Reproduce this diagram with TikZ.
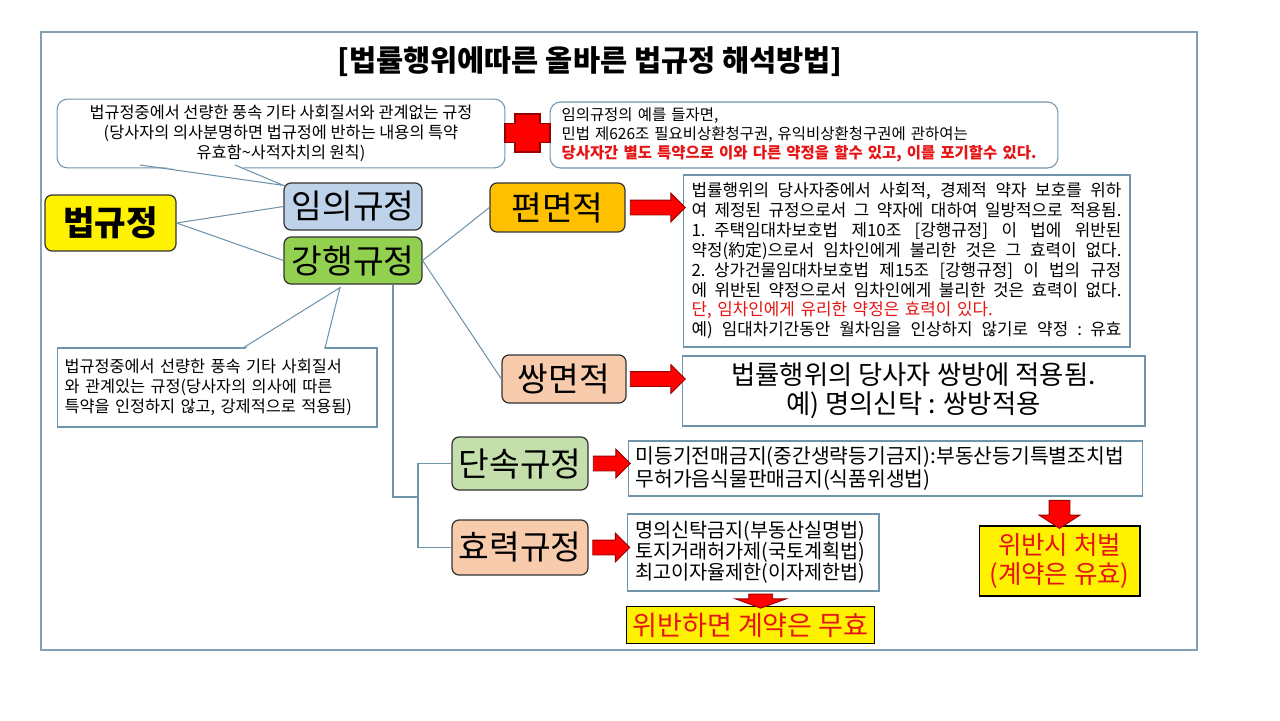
\documentclass[tikz,border=0pt]{standalone}
\usepackage{fontspec}
\setmainfont{Noto Sans CJK KR}
\usetikzlibrary{shapes.arrows,calc}

\definecolor{linecol}{RGB}{112,148,172}
\definecolor{framecol}{RGB}{130,162,180}
\definecolor{darkred}{RGB}{150,0,0}
\definecolor{textred}{RGB}{230,20,20}
\definecolor{imuifill}{RGB}{190,210,234}
\definecolor{ganghaengfill}{RGB}{146,208,80}
\definecolor{pyeonfill}{RGB}{255,192,0}
\definecolor{ssangfill}{RGB}{248,203,173}
\definecolor{dansokfill}{RGB}{196,222,172}

% one justified line of the long text box
\newcommand\jline[1]{{\spaceskip=0.25em plus 3em minus 0.05em\makebox[8.6cm][s]{#1}}}

\begin{document}
\begin{tikzpicture}[x=0.02cm, y=-0.02cm,
  conn/.style={draw=linecol, line width=0.6pt},
  labelbox/.style={draw=black!80, line width=0.7pt, rounded corners=4pt, inner sep=0pt,
    minimum width=2.76cm, minimum height=0.94cm, font=\fontsize{19}{21}\selectfont},
  textbox/.style={draw=linecol, line width=0.6pt, fill=white},
  callout/.style={draw=linecol, line width=0.6pt, fill=white},
  yellowbox/.style={draw=black, line width=0.6pt, fill=yellow, text=textred},
  redarrow/.style={single arrow, draw=darkred, fill=red, line width=0.5pt, inner xsep=0pt,
    inner ysep=0.14cm, single arrow head extend=0.14cm, minimum width=0.56cm}]

  % Fix the page to the size of the slide
  \useasboundingbox[fill=white] (0,0) rectangle (1280,720);

  % Outer frame and title
  \draw[framecol, line width=0.6pt] (41,32) rectangle (1197,650);
  \node[font=\bfseries\fontsize{16.8}{19}\selectfont] (title) at (590,62)
    {[법률행위에따른 올바른 법규정 해석방법]};

  % Callouts at the top, joined by the red cross
  \node[callout, rounded corners=6pt, minimum width=8.96cm, minimum height=1.26cm,
    align=center, font=\fontsize{9.3}{11.5}\selectfont] (callA) at (281,133.5)
    {법규정중에서 선량한 풍속 기타 사회질서와 관계없는 규정\\
     (당사자의 의사분명하면 법규정에 반하는 내용의 특약\\
     유효함\textasciitilde 사적자치의 원칙)};
  \node[callout, rounded corners=6pt, text width=9.7cm, inner xsep=0.23cm,
    minimum height=1.32cm, align=left, font=\fontsize{8.8}{10.8}\selectfont] (callB) at (804,135)
    {임의규정의 예를 들자면,\\
     민법 제626조 필요비상환청구권, 유익비상환청구권에 관하여는\\
     {\bfseries\color{textred}당사자간 별도 특약으로 이와 다른 약정을 할수 있고, 이를 포기할수 있다.}};
  \filldraw[fill=red, draw=darkred, line width=0.6pt]
    (515,114) -- (540,114) -- (540,123.5) -- (550,123.5) -- (550,142.5) -- (540,142.5)
    -- (540,152) -- (515,152) -- (515,142.5) -- (505,142.5) -- (505,123.5) -- (515,123.5) -- cycle;

  % The rule boxes
  \node[labelbox, fill=yellow, minimum width=2.62cm, minimum height=1.12cm,
    font=\bfseries\fontsize{19.5}{21}\selectfont] (beop) at (110.5,223) {법규정};
  \node[labelbox, fill=imuifill] (imui) at (353,206.5) {임의규정};
  \node[labelbox, fill=ganghaengfill] (ganghaeng) at (353,260.5) {강행규정};
  \node[labelbox, fill=pyeonfill, minimum width=2.7cm, minimum height=0.98cm] (pyeon) at (557.5,207.5) {편면적};
  \node[labelbox, fill=ssangfill, minimum width=2.48cm, minimum height=0.96cm] (ssang) at (564,379) {쌍면적};
  \node[labelbox, fill=dansokfill, minimum width=2.72cm, minimum height=1.06cm] (dansok) at (520,463.5) {단속규정};
  \node[labelbox, fill=ssangfill, minimum width=2.72cm, minimum height=1.1cm] (hyoryeok) at (520,547.5) {효력규정};

  % Explanation boxes
  \node[textbox, text width=8.6cm, inner xsep=0.17cm, minimum height=3.44cm, align=left,
    font=\fontsize{9.6}{11.3}\selectfont] (pyeonT) at (906.5,261)
    {\jline{법률행위의 당사자중에서 사회적, 경제적 약자 보호를 위하}\\
     \jline{여 제정된 규정으로서 그 약자에 대하여 일방적으로 적용됨.}\\
     \jline{1. 주택임대차보호법 제10조 [강행규정] 이 법에 위반된}\\
     \jline{약정(約定)으로서 임차인에게 불리한 것은 그 효력이 없다.}\\
     \jline{2. 상가건물임대차보호법 제15조 [강행규정] 이 법의 규정}\\
     \jline{에 위반된 약정으로서 임차인에게 불리한 것은 효력이 없다.}\\
     {\color{textred}단, 임차인에게 유리한 약정은 효력이 있다.}\\
     \jline{예) 임대차기간동안 월차임을 인상하지 않기로 약정 : 유효}};
  \node[textbox, minimum width=9.26cm, minimum height=1.4cm, align=center,
    font=\fontsize{15}{16.5}\selectfont] (ssangT) at (913.5,391)
    {법률행위의 당사자 쌍방에 적용됨.\\예) 명의신탁 : 쌍방적용};
  \node[textbox, text width=10cm, inner xsep=0.15cm, minimum height=1.1cm, align=left,
    font=\fontsize{11.6}{12.6}\selectfont] (dansokT) at (885.5,468.5)
    {미등기전매금지(중간생략등기금지):부동산등기특별조치법\\무허가음식물판매금지(식품위생법)};
  \node[textbox, text width=4.72cm, inner xsep=0.16cm, minimum height=1.54cm, align=left,
    font=\fontsize{11.2}{11.9}\selectfont] (hyoT) at (753,552.5)
    {명의신탁금지(부동산실명법)\\토지거래허가제(국토계획법)\\최고이자율제한(이자제한법)};

  % Results in yellow
  \node[yellowbox, minimum width=4.9cm, minimum height=0.64cm,
    font=\fontsize{15.4}{16}\selectfont] (muhyo) at (750.5,625) {위반하면 계약은 무효};
  \node[yellowbox, minimum width=3.22cm, minimum height=1.4cm, align=center,
    font=\fontsize{14.5}{16}\selectfont] (cheobeol) at (1059.5,561) {위반시 처벌\\(계약은 유효)};

  % Lower left callout
  \node[callout, text width=6.1cm, inner xsep=0.15cm, minimum height=1.58cm, align=left,
    font=\fontsize{9.3}{11.4}\selectfont] (callC) at (217,387.5)
    {법규정중에서 선량한 풍속 기타 사회질서\\
     와 관계있는 규정(당사자의 의사에 따른\\
     특약을 인정하지 않고, 강제적으로 적용됨)};

  % Red block arrows
  \node[redarrow, minimum height=1.1cm] (arrP) at ($(pyeon.east)!0.5!(pyeon.east -| pyeonT.west)$) {};
  \node[redarrow, minimum height=1.1cm] (arrS) at ($(ssang.east)!0.5!(ssang.east -| ssangT.west)$) {};
  \node[redarrow, minimum height=0.74cm] (arrD) at ($(dansok.east)!0.5!(dansok.east -| dansokT.west)$) {};
  \node[redarrow, minimum height=0.74cm] (arrH) at ($(hyoryeok.east)!0.5!(hyoryeok.east -| hyoT.west)$) {};
  \node[redarrow, rotate=-90, minimum height=0.28cm, minimum width=1cm, inner ysep=0.23cm,
    single arrow head extend=0.27cm, single arrow tip angle=140] (arrM)
    at ($(hyoT.south)!0.5!(muhyo.north) + (9,0)$) {};
  \node[redarrow, rotate=-90, minimum height=0.56cm, minimum width=0.8cm, inner ysep=0.2cm,
    single arrow head extend=0.2cm, single arrow tip angle=114] (arrC)
    at ($(cheobeol.north |- dansokT.south)!0.5!(cheobeol.north)$) {};

  % Connectors of the tree
  \draw[conn] (beop.east) -- (imui.west);
  \draw[conn] (beop.east) -- (ganghaeng.west);
  \draw[conn] (ganghaeng.east) -- (pyeon.west);
  \draw[conn] (ganghaeng.east) -- (ssang.west);
  \coordinate (trunk) at ([xshift=0.8cm]ganghaeng.south);
  \coordinate (fork) at (418,497);
  \draw[conn] (trunk) |- (fork);
  \draw[conn] (dansok.west) -| (fork) |- (hyoryeok.west);

  % Tails of the two callouts
  \coordinate (tipA) at ([yshift=-0.06cm]imui.north west);
  \fill[white] (141,163.5) -- (tipA) -- (234,163.5) -- cycle;
  \draw[conn] (140,165) -- (tipA) -- (235,165);
  \coordinate (tipC) at ([xshift=-0.26cm,yshift=-0.06cm]ganghaeng.south);
  \fill[white] (244,349.5) -- (tipC) -- (324,349.5) -- cycle;
  \draw[conn] (243,348) -- (tipC) -- (325,348);

\end{tikzpicture}
\end{document}
